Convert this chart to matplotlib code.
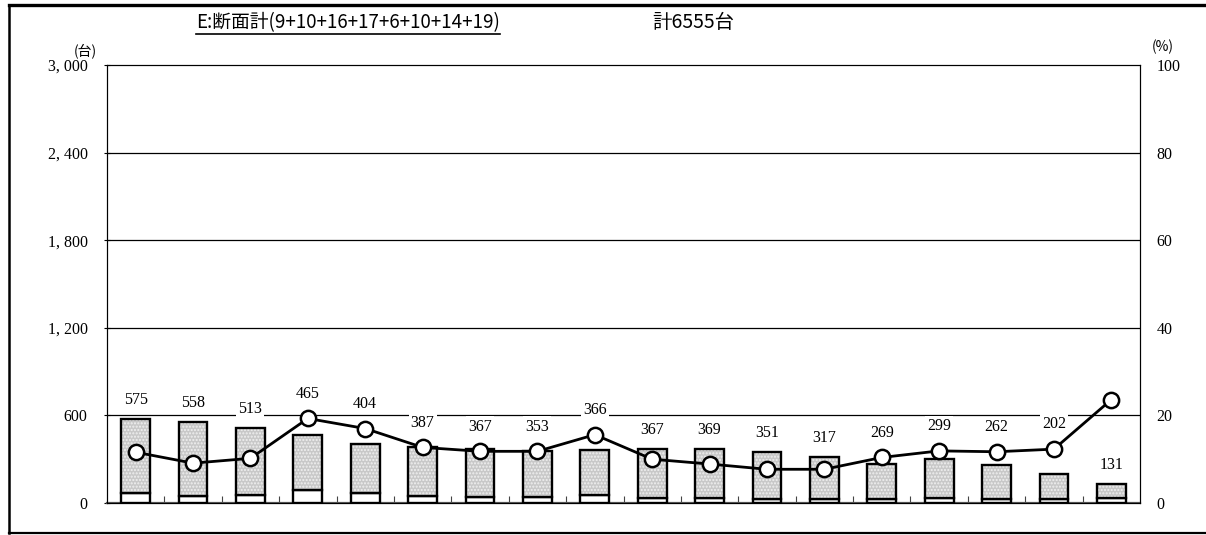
import numpy as np
import matplotlib
matplotlib.use('Agg')
import matplotlib.pyplot as plt
from matplotlib.lines import Line2D

# total vehicles per time slot (台)
totals = [575, 558, 513, 465, 404, 387, 367, 353, 366, 367, 369, 351, 317, 269, 299, 262, 202, 131]
# large-vehicle share (%)
large_pct = [11.6, 9.1, 10.2, 19.3, 17.0, 12.7, 11.8, 11.8, 15.6, 10.0, 8.9, 7.7, 7.7, 10.4, 11.9, 11.7, 12.3, 23.6]
left_ticks = [0, 600, 1200, 1800, 2400, 3000]
right_ticks = [0, 20, 40, 60, 80, 100]
title = 'E:断面計(9+10+16+17+6+10+14+19)'
total_label = '計6555台'

serif = 'Liberation Serif'
cjk = ['Noto Sans CJK JP', 'DejaVu Sans']

totals = np.array(totals)
large_pct = np.array(large_pct)
large = totals * large_pct / 100
x = np.arange(len(totals))

fig = plt.figure(figsize=(12.06, 5.35), dpi=100)
ax = fig.add_axes([0.0887, 0.0598, 0.8566, 0.8187])

# small (dotted) part on top of large (white) part
ax.bar(x, large, width=0.5, color='white', edgecolor='black', linewidth=1.7, zorder=3)
ax.bar(x, totals - large, bottom=large, width=0.5, color='#c8c8c8',
       edgecolor='#f0f0f0', hatch='.....', linewidth=0, zorder=3)
ax.bar(x, totals - large, bottom=large, width=0.5, color='none',
       edgecolor='black', linewidth=1.7, zorder=4)

ax.set_xlim(-0.5, len(totals) - 0.5)
ax.set_ylim(0, 3000)
ax.set_yticks(left_ticks)
ax.set_yticklabels([f'{v:,}'.replace(',', ', ') for v in left_ticks],
                   fontfamily=serif, fontsize=11.5)
ax.tick_params(axis='y', direction='inout', length=4, pad=12)
ax.set_xticks(np.arange(0.5, len(totals) - 1, 1))
ax.set_xticklabels([])
ax.tick_params(axis='x', direction='in', length=5, color='#444')
for yv in left_ticks[1:-1]:
    ax.axhline(yv, color='black', lw=0.9, zorder=1)
ax.spines['bottom'].set_color('#555')
ax.spines['bottom'].set_linewidth(1.6)

ax2 = ax.twinx()
ax2.set_ylim(0, 100)
ax2.set_yticks(right_ticks)
ax2.set_yticklabels([str(v) for v in right_ticks], fontfamily=serif, fontsize=11.5)
ax2.tick_params(axis='y', length=0, pad=12)
ax2.plot(x, large_pct, color='black', lw=2, marker='o', markersize=11,
         markerfacecolor='white', markeredgecolor='black', markeredgewidth=1.8, zorder=5)

# value labels above the bar, pushed above the marker when they would clash
for xi, t, p in zip(x, totals, large_pct):
    yl = t + 130
    c = p * 30
    if c + 170 > yl and c - yl < 250:
        yl = c + 170
    ax.text(xi, yl, str(t), ha='center', va='center', fontfamily=serif, fontsize=11.5,
            zorder=6, bbox=dict(facecolor='white', edgecolor='none', pad=1.5))

fig.text(0.0705, 0.906, '(台)', ha='center', va='center', family=cjk, fontsize=10)
fig.text(0.9645, 0.913, '(%)', ha='center', va='center', family=cjk, fontsize=10)

t1 = fig.text(0.2886, 0.958, title, ha='center', va='center', family=cjk, fontsize=13.5)
fig.text(0.5746, 0.958, total_label, ha='center', va='center', family=cjk, fontsize=14)

# underline under the title
fig.canvas.draw()
bb = t1.get_window_extent().transformed(fig.transFigure.inverted())
fig.add_artist(Line2D([bb.x0, bb.x1], [bb.y0 - 0.002, bb.y0 - 0.002], color='black', lw=1.2))

# outer frame (open to the right)
fig.add_artist(Line2D([0.0075, 1.0], [0.9907, 0.9907], color='black', lw=2.4))
fig.add_artist(Line2D([0.0075, 0.0075], [0.004, 0.9907], color='black', lw=1.8))
fig.add_artist(Line2D([0.0075, 1.0], [0.004, 0.004], color='black', lw=1.6))

fig.savefig('out.png', dpi=100)
